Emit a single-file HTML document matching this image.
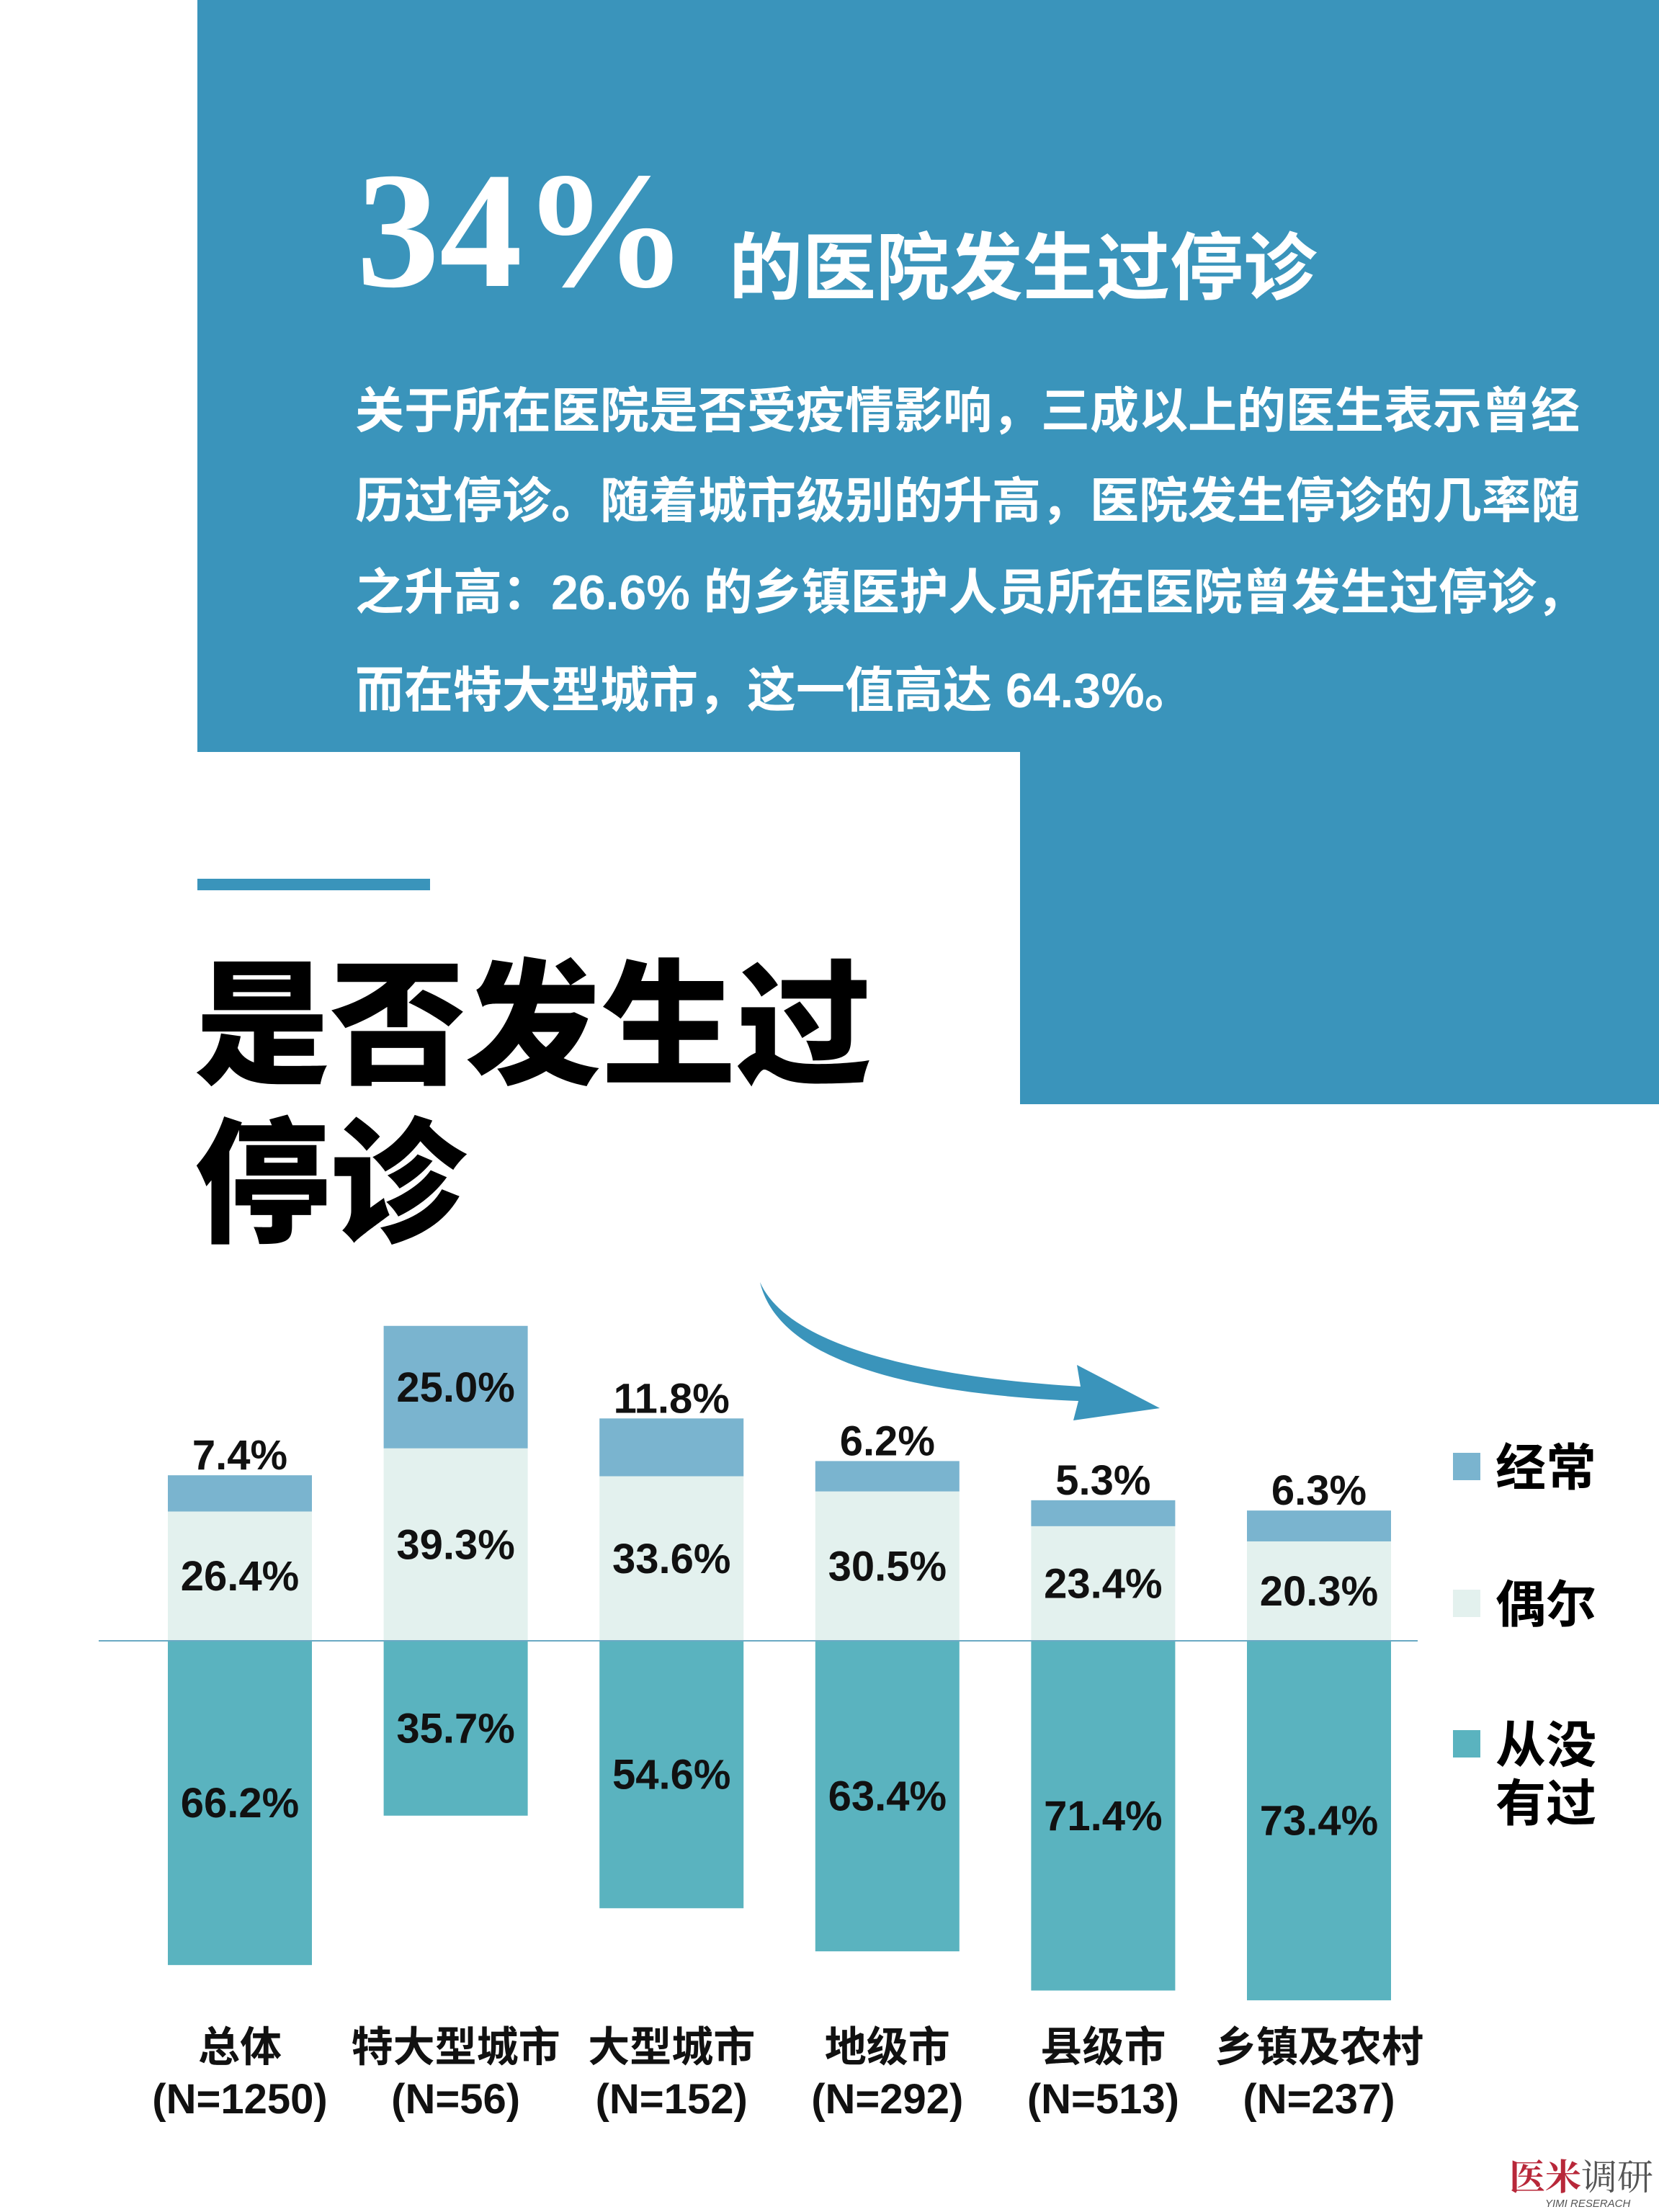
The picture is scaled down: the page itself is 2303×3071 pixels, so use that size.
<!DOCTYPE html>
<html><head><meta charset="utf-8"><style>
body{margin:0;width:2303px;height:3071px;position:relative;background:#fff;overflow:hidden;font-family:"Liberation Sans","Noto Sans CJK SC",sans-serif;}
.a{position:absolute;}
.p{color:#fff;font-weight:bold;font-size:68px;left:493px;white-space:nowrap;}
</style></head><body>
<div class="a" style="left:274px;top:0;width:2029px;height:1044px;background:#3a94bb"></div>
<div class="a" style="left:1416px;top:1040px;width:887px;height:493px;background:#3a94bb"></div>
<div class="a" style="left:495px;top:205px;font-family:'Liberation Serif',serif;font-weight:bold;font-size:230px;line-height:230px;color:#fff">34%</div>
<div class="a" style="left:1012px;top:318px;font-weight:bold;font-size:102px;line-height:110px;color:#fff;font-family:'Liberation Sans','Noto Sans CJK SC',sans-serif">的医院发生过停诊</div>
<div class="a p" style="top:515px">关于所在医院是否受疫情影响，三成以上的医生表示曾经</div>
<div class="a p" style="top:640px">历过停诊。随着城市级别的升高，医院发生停诊的几率随</div>
<div class="a p" style="top:767px">之升高：26.6% 的乡镇医护人员所在医院曾发生过停诊，</div>
<div class="a p" style="top:903px">而在特大型城市，这一值高达 64.3%。</div>
<div class="a" style="left:274px;top:1220px;width:323px;height:16px;background:#3a94bb"></div>
<div class="a" style="left:270px;top:1315px;font-weight:900;font-size:188px;line-height:220px;color:#000">是否发生过<br>停诊</div>

<svg class="a" style="left:0;top:0" width="2303" height="3071">
<path d="M1055,1780 C1090,1860 1250,1910 1500,1925 L1495,1895 L1610,1955 L1490,1972 L1497,1945 C1250,1935 1080,1885 1055,1780 Z" fill="#3a94bb"/>
<g id="bars"></g>
<line x1="137" y1="2278" x2="1968" y2="2278" stroke="#6aa9c3" stroke-width="2"/>
<g id="labels"></g>
<rect x="2017" y="2017" width="38" height="38" fill="#7ab4cf"/>
<text x="2076" y="2062" font-size="70" font-weight="bold" fill="#000">经常</text>
<rect x="2017" y="2207" width="38" height="38" fill="#e3f1ee"/>
<text x="2076" y="2252" font-size="70" font-weight="bold" fill="#000">偶尔</text>
<rect x="2017" y="2402" width="38" height="38" fill="#5ab3bf"/>
<text x="2076" y="2447" font-size="70" font-weight="bold" fill="#000">从没</text>
<text x="2076" y="2528" font-size="70" font-weight="bold" fill="#000">有过</text>
<text x="2095" y="3040" font-size="50" font-weight="bold" fill="#b8283a" font-family="Noto Serif CJK SC,serif">医米<tspan fill="#555" font-weight="normal">调研</tspan></text>
<text x="2145" y="3064" font-size="15" font-style="italic" fill="#555">YIMI RESERACH</text>
</svg>
<script>
const categories=["总体","特大型城市","大型城市","地级市","县级市","乡镇及农村"];
const sampleSizes=["(N=1250)","(N=56)","(N=152)","(N=292)","(N=513)","(N=237)"];
const often=[7.4,25.0,11.8,6.2,5.3,6.3];
const sometimes=[26.4,39.3,33.6,30.5,23.4,20.3];
const never=[66.2,35.7,54.6,63.4,71.4,73.4];
const NS="http://www.w3.org/2000/svg";
const base=2278, k=6.8, x0=333, step=299.6, bw=200;
const xs=i=>x0+i*step, ys=v=>v*k;
const gb=document.getElementById('bars'), gl=document.getElementById('labels');
function rect(x,y,w,h,fill,name){const r=document.createElementNS(NS,'rect');r.setAttribute('x',x);r.setAttribute('y',y);r.setAttribute('width',w);r.setAttribute('height',h);r.setAttribute('fill',fill);


gb.appendChild(r);}
function txt(x,y,s,name,size){const t=document.createElementNS(NS,'text');t.setAttribute('x',x);t.setAttribute('y',y);t.setAttribute('text-anchor','middle');t.setAttribute('font-size',size||58);t.setAttribute('font-weight','bold');t.setAttribute('fill','#111');t.textContent=s;


gl.appendChild(t);}
categories.forEach((c,i)=>{
 const cx=xs(i), l=cx-bw/2;
 const hn=ys(never[i]), hs=ys(sometimes[i]), ho=ys(often[i]);
 rect(l,base,bw,hn,'#5ab3bf','bar-never-'+i);
 rect(l,base-hs,bw,hs,'#e3f1ee','bar-sometimes-'+i);
 rect(l,base-hs-ho,bw,ho,'#7ab4cf','bar-often-'+i);
 txt(cx,base+hn/2+20,never[i].toFixed(1)+'%','value-never-'+i);
 txt(cx,base-hs/2+20,sometimes[i].toFixed(1)+'%','value-sometimes-'+i);
 const top=base-hs-ho;
 if(ho>100) txt(cx,top+ho/2+20,often[i].toFixed(1)+'%','value-often-'+i);
 else txt(cx,top-8,often[i].toFixed(1)+'%','value-often-'+i);
 txt(cx,2862,c,'category-label-'+i);
 txt(cx,2934,sampleSizes[i],'sample-size-'+i);
});
</script>
</body></html>
